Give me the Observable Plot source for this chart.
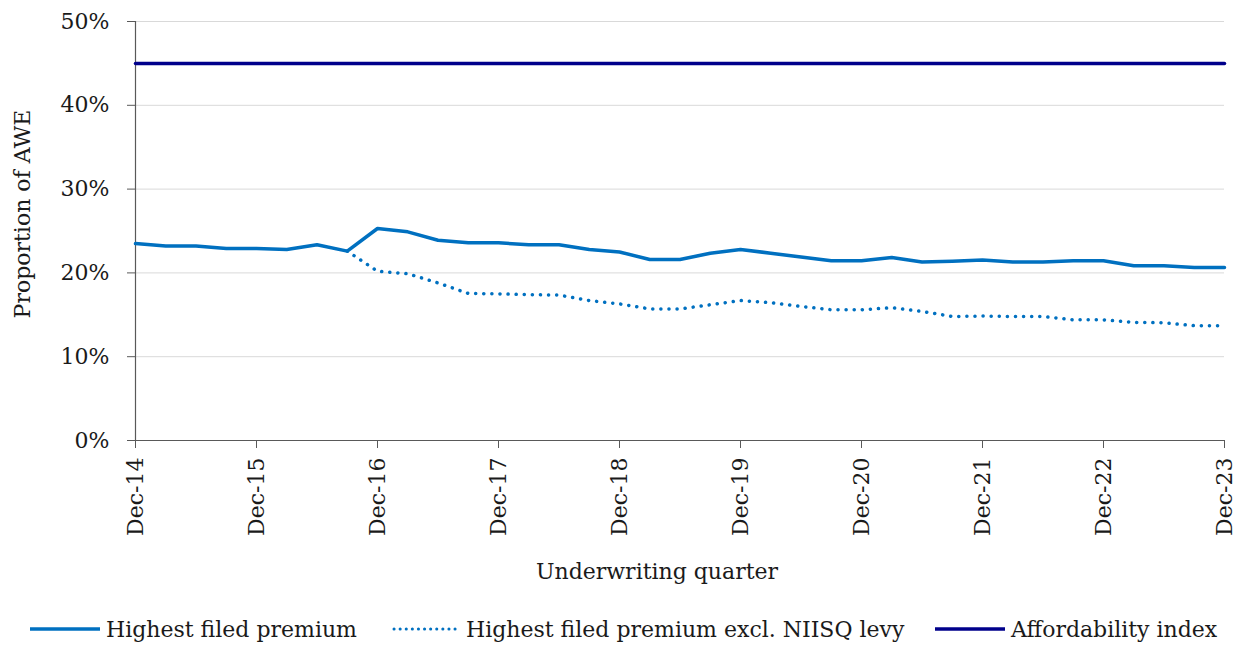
<!DOCTYPE html>
<html>
<head>
<meta charset="utf-8">
<script src="https://cdn.jsdelivr.net/npm/d3@7"></script>
<script src="https://cdn.jsdelivr.net/npm/@observablehq/plot@0.6"></script>
<style>
  html, body { margin: 0; padding: 0; background: #fff; }
  body { width: 1245px; height: 646px; overflow: hidden; font-family: "DejaVu Serif", serif; color: #1a1a1a; }
  #chart svg { display: block; }
  #legend { position: relative; height: 42px; font-size: 22px; }
  .item { position: absolute; top: 4px; height: 42px; display: flex; align-items: center; white-space: nowrap; }
  .item svg { margin-right: 6px; }
</style>
</head>
<body>
<div id="chart"></div>
<div id="legend"></div>
<script>
const quarters = [
  "Dec-14","Mar-15","Jun-15","Sep-15","Dec-15","Mar-16","Jun-16","Sep-16",
  "Dec-16","Mar-17","Jun-17","Sep-17","Dec-17","Mar-18","Jun-18","Sep-18",
  "Dec-18","Mar-19","Jun-19","Sep-19","Dec-19","Mar-20","Jun-20","Sep-20",
  "Dec-20","Mar-21","Jun-21","Sep-21","Dec-21","Mar-22","Jun-22","Sep-22",
  "Dec-22","Mar-23","Jun-23","Sep-23","Dec-23"
];
const tickLabels = ["Dec-14","Dec-15","Dec-16","Dec-17","Dec-18","Dec-19","Dec-20","Dec-21","Dec-22","Dec-23"];
const yTicks = [0, 0.1, 0.2, 0.3, 0.4, 0.5];

// values in % of AWE
const highestFiled = [
  23.5, 23.2, 23.2, 22.9, 22.9, 22.8, 23.35, 22.6,
  25.3, 24.9, 23.9, 23.6, 23.6, 23.35, 23.35, 22.8,
  22.5, 21.6, 21.6, 22.35, 22.8, 22.35, 21.9, 21.45,
  21.45, 21.85, 21.3, 21.4, 21.55, 21.3, 21.3, 21.45,
  21.45, 20.85, 20.85, 20.65, 20.65
];
const exclLevy = [
  null, null, null, null, null, null, null, 22.6,
  20.2, 19.9, 18.8, 17.55, 17.5, 17.4, 17.35, 16.7,
  16.3, 15.7, 15.7, 16.2, 16.7, 16.45, 16.0, 15.6,
  15.6, 15.85, 15.4, 14.8, 14.85, 14.8, 14.8, 14.4,
  14.4, 14.1, 14.05, 13.7, 13.7
];
const affordability = [
  45, 45, 45, 45, 45, 45, 45, 45, 45, 45, 45, 45, 45, 45, 45, 45, 45, 45, 45,
  45, 45, 45, 45, 45, 45, 45, 45, 45, 45, 45, 45, 45, 45, 45, 45, 45, 45
];

const seriesNames = ["Highest filed premium", "Highest filed premium excl. NIISQ levy", "Affordability index"];
const colors = ["#0070c0", "#0070c0", "#00008b"];

const rows = [];
quarters.forEach((q, i) => {
  rows.push({q, s: seriesNames[0], v: highestFiled[i] / 100});
  if (exclLevy[i] != null) rows.push({q, s: seriesNames[1], v: exclLevy[i] / 100});
  rows.push({q, s: seriesNames[2], v: affordability[i] / 100});
});

const font = '"DejaVu Serif", serif';
const chart = Plot.plot({
  width: 1245,
  height: 604,
  marginLeft: 135,
  marginRight: 21,
  marginTop: 21,
  marginBottom: 164,
  style: {fontFamily: font, fontSize: "22px", color: "#1a1a1a", background: "#fff"},
  x: {type: "point", domain: quarters, padding: 0, round: false},
  y: {domain: [0, 0.5]},
  marks: [
    Plot.gridY(yTicks, {stroke: "#d9d9d9", strokeOpacity: 1, strokeWidth: 1}),
    Plot.axisY(yTicks, {tickFormat: d3.format(".0%"), tickSize: 8, tickPadding: 18, stroke: "#595959", label: null, fontSize: 22}),
    Plot.axisX(tickLabels, {tickRotate: -90, tickSize: 8, tickPadding: 9, stroke: "#595959", label: null, fontSize: 22}),
    Plot.ruleY([0], {stroke: "#595959", strokeWidth: 1.2}),
    Plot.ruleX([quarters[0]], {stroke: "#595959", strokeWidth: 1.2}),
    Plot.line(rows.filter(d => d.s === seriesNames[2]), {x: "q", y: "v", stroke: colors[2], strokeWidth: 3.5}),
    Plot.line(rows.filter(d => d.s === seriesNames[1]), {x: "q", y: "v", stroke: colors[1], strokeWidth: 3.5, strokeDasharray: "0.1 8", strokeLinecap: "round"}),
    Plot.line(rows.filter(d => d.s === seriesNames[0]), {x: "q", y: "v", stroke: colors[0], strokeWidth: 3.5}),
    Plot.text(["Proportion of AWE"], {frameAnchor: "left", textAnchor: "middle", lineAnchor: "middle", rotate: -90, dx: -113, dy: -17, fontSize: 22, fill: "#1a1a1a"}),
    Plot.text(["Underwriting quarter"], {frameAnchor: "bottom", textAnchor: "middle", dy: 138, dx: -23, fontSize: 22, fill: "#1a1a1a"})
  ]
});
document.getElementById("chart").appendChild(chart);

// legend
const legendPos = [30, 390, 935];
const legend = document.getElementById("legend");
seriesNames.forEach((name, i) => {
  const item = document.createElement("div");
  item.className = "item";
  item.style.left = legendPos[i] + "px";
  const dash = i === 1 ? 'stroke-dasharray="0.1 6" stroke-linecap="round" stroke-width="3"' : 'stroke-width="3.5"';
  item.innerHTML = `<svg width="70" height="10"><line x1="${i === 1 ? 4 : 0}" x2="${i === 1 ? 68 : 70}" y1="5" y2="5" stroke="${colors[i]}" ${dash}/></svg><span>${name}</span>`;
  legend.appendChild(item);
});
</script>
</body>
</html>
